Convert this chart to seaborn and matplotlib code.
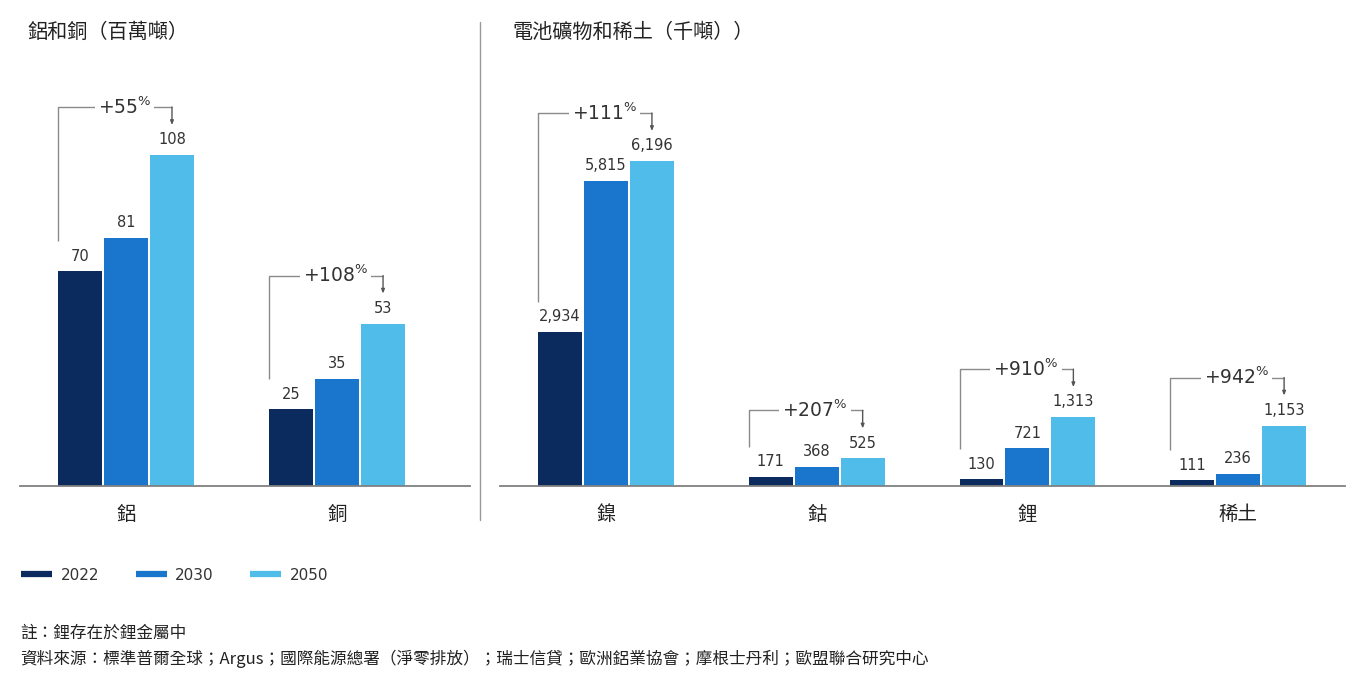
import matplotlib
matplotlib.use("Agg")
import matplotlib.pyplot as plt
from matplotlib.lines import Line2D
import seaborn as sns
import pandas as pd

# ---------------- data ----------------
years = ["2022", "2030", "2050"]
left_cats = ["鋁", "銅"]
left_vals = {"2022": [70, 25], "2030": [81, 35], "2050": [108, 53]}
left_growth = ["+55", "+108"]
right_cats = ["鎳", "鈷", "鋰", "稀土"]
right_vals = {"2022": [2934, 171, 130, 111],
              "2030": [5815, 368, 721, 236],
              "2050": [6196, 525, 1313, 1153]}
right_growth = ["+111", "+207", "+910", "+942"]
left_title = "鋁和銅（百萬噸）"
right_title = "電池礦物和稀土（千噸））"
note_text = "註：鋰存在於鋰金屬中"
source_text = ("資料來源：標準普爾全球；Argus；國際能源總署（淨零排放）；瑞士信貸；"
               "歐洲鋁業協會；摩根士丹利；歐盟聯合研究中心")
colors = {"2022": "#0b2b5e", "2030": "#1a76cc", "2050": "#50bce9"}

sns.set_theme(style="white")
plt.rcParams["font.family"] = ["DejaVu Sans", "Noto Sans CJK TC"]
plt.rcParams["mathtext.default"] = "regular"
CJK = ["Noto Sans CJK TC", "DejaVu Sans"]

W, H = 1364, 694
fig = plt.figure(figsize=(W / 100, H / 100), dpi=100)


def rect(x0, x1, ytop, ybot):
    return [x0 / W, 1 - ybot / H, (x1 - x0) / W, (ybot - ytop) / H]


def long_df(cats, vals):
    rows = []
    for y in years:
        for c, v in zip(cats, vals[y]):
            rows.append({"cat": c, "year": y, "val": v})
    return pd.DataFrame(rows)


AX_H_PX = 426
axL = fig.add_axes(rect(20, 470, 60, 486))
axR = fig.add_axes(rect(500, 1345, 60, 486))

GREY = "#8a8a8a"
TXT = "#333333"


def panel(ax, cats, vals, growth, ymax, xlim):
    df = long_df(cats, vals)
    sns.barplot(data=df, x="cat", y="val", hue="year", order=cats,
                hue_order=years, palette=colors, saturation=1,
                width=0.654, gap=0.0435, linewidth=0, legend=False, ax=ax,
                errorbar=None)
    ax.set_ylim(0, ymax)
    ax.set_xlim(*xlim)
    ax.set_xlabel("")
    ax.set_ylabel("")
    ax.set_yticks([])
    for s in ["left", "right", "top"]:
        ax.spines[s].set_visible(False)
    ax.spines["bottom"].set_color("#808080")
    ax.spines["bottom"].set_linewidth(1.3)
    ax.tick_params(axis="x", length=0, pad=13)
    for t in ax.get_xticklabels():
        t.set_fontfamily(CJK)
        t.set_fontsize(14)
        t.set_color("#222222")
    for cont, y in zip(ax.containers, years):
        ax.bar_label(cont, labels=[f"{v:,}" for v in vals[y]], padding=5.5,
                     fontsize=10.5, color=TXT)
    pxu = ymax / AX_H_PX
    for i, g in enumerate(growth):
        p0 = ax.containers[0].patches[i]
        p2 = ax.containers[2].patches[i]
        v0 = vals[years[0]][i]
        v2 = vals[years[2]][i]
        x0 = p0.get_x()
        x2 = p2.get_x() + p2.get_width() / 2
        ytop = v2 + 48 * pxu
        ybot = v0 + 30 * pxu
        yarr = v2 + 30 * pxu
        ax.plot([x0, x0, x2], [ybot, ytop, ytop], color=GREY, lw=1.0,
                clip_on=False, solid_capstyle="butt", zorder=3)
        ax.annotate("", xy=(x2, yarr), xytext=(x2, ytop),
                    arrowprops=dict(arrowstyle="-|>,head_length=0.2,head_width=0.08",
                                    color="#555555", lw=1.0, shrinkA=0, shrinkB=0),
                    annotation_clip=False, zorder=3)
        xm = (x0 + x2) / 2 + 0.045
        ax.text(xm, ytop - 6.5 * pxu, g + r"${}^{\%}$", ha="center", va="baseline",
                fontsize=13.5, color=TXT, zorder=4,
                bbox=dict(fc="white", ec="none", pad=2.2))


panel(axL, left_cats, left_vals, left_growth, 139.0, (-0.502, 1.630))
panel(axR, right_cats, right_vals, right_growth, 8122, (-0.503, 3.507))

fig.text(27 / W, 1 - 32 / H, left_title, fontsize=14.5, va="center",
         family=CJK, color="#222222")
fig.text(512 / W, 1 - 32 / H, right_title, fontsize=14.5, va="center",
         family=CJK, color="#222222")
fig.add_artist(Line2D([480 / W, 480 / W], [1 - 22 / H, 1 - 520 / H],
                      color="#999999", lw=1.0))

handles = [Line2D([0], [0], color=colors[y], lw=4.5, solid_capstyle="butt")
           for y in years]
fig.legend(handles, years, loc="center left", bbox_to_anchor=(21 / W, 1 - 575 / H),
           ncol=3, frameon=False, handlelength=2.03, handletextpad=0.55,
           columnspacing=2.4, fontsize=11, borderaxespad=0, borderpad=0,
           labelcolor=TXT)

fig.text(20 / W, 1 - 633 / H, note_text, fontsize=12, va="center",
         family=CJK, color="#222222")
fig.text(20 / W, 1 - 659 / H, source_text, fontsize=12, va="center",
         family=CJK, color="#222222")

fig.savefig("out.png", dpi=100)
